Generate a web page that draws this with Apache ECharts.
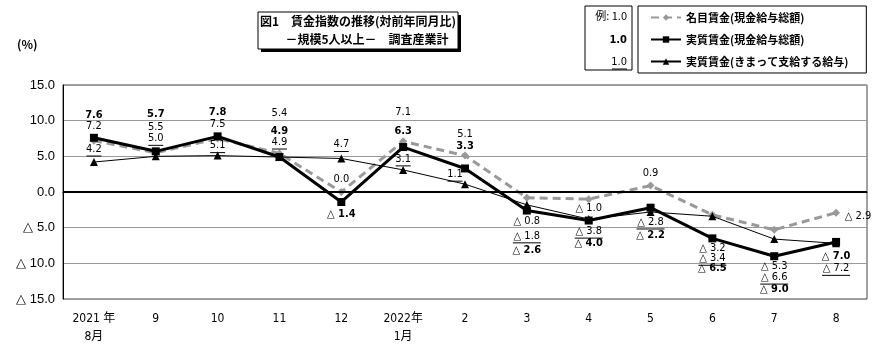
<!DOCTYPE html>
<html>
<head>
<meta charset="utf-8">
<script src="https://cdn.jsdelivr.net/npm/echarts@6/dist/echarts.min.js"></script>
<style>
  html, body { margin: 0; padding: 0; background: #fff; }
  #main { width: 890px; height: 354px; }
</style>
</head>
<body>
<div id="main"></div>
<script>
// 月
const months = ['2021 年\n8月', '9', '10', '11', '12', '2022年\n1月', '2', '3', '4', '5', '6', '7', '8'];
// 名目賃金(現金給与総額)
const nominal = [7.2, 5.5, 7.5, 5.4, 0.0, 7.1, 5.1, -0.8, -1.0, 0.9, -3.2, -5.3, -2.9];
// 実質賃金(現金給与総額)
const real = [7.6, 5.7, 7.8, 4.9, -1.4, 6.3, 3.3, -2.6, -4.0, -2.2, -6.5, -9.0, -7.0];
// 実質賃金(きまって支給する給与)
const scheduled = [4.2, 5.0, 5.1, 4.9, 4.7, 3.1, 1.1, -1.8, -3.8, -2.8, -3.4, -6.6, -7.2];
const yMin = -15, yMax = 15, yStep = 5;

// ラベル位置 (点からのずれ px)
const nominalOff = [[0,-14],[0,-26],[0,-14],[0,-40],[0,-13],[0,-29],[0,-21],[0,23],[0,9],[0,-12],[0,33],[0,36],[22,3]];
const realOff = [[0,-23],[0,-37],[0,-24],[0,-26],[0,12],[0,-16],[0,-22],[0,40],[0,23],[0,27],[0,30],[0,33],[0,14]];
const schedOff = [[0,-12],[0,-17],[0,-9],[0,-14],[0,-13],[0,-10],[-10,-9],[0,32],[0,13],[0,11],[0,43],[0,39],[0,26]];

const NUM_FONT = "'Liberation Sans Narrow', 'DejaVu Sans Condensed', 'Liberation Sans', sans-serif";
const JP_FONT = "'Noto Sans CJK JP', sans-serif";

const fmt = (v) => v < 0 ? '△ ' + Math.abs(v).toFixed(1) : v.toFixed(1);

const buildData = (arr, offs) => arr.map((v, i) => ({
  value: v,
  label: { position: 'inside', offset: offs[i] }
}));

const chart = echarts.init(document.getElementById('main'));

const option = {
  animation: false,
  backgroundColor: '#fff',
  grid: { left: 63, right: 23, top: 85, bottom: 55, show: true, borderColor: '#444', borderWidth: 1 },
  legend: {
    orient: 'vertical',
    left: 638,
    top: 6,
    padding: [6, 18, 6, 12],
    itemGap: 11,
    itemWidth: 30,
    itemHeight: 8,
    borderColor: '#000',
    borderWidth: 1,
    textStyle: { fontFamily: JP_FONT, fontSize: 11, color: '#000', fontWeight: 'bold' },
    data: ['名目賃金(現金給与総額)', '実質賃金(現金給与総額)', '実質賃金(きまって支給する給与)']
  },
  xAxis: {
    type: 'category',
    data: months,
    boundaryGap: true,
    axisLine: { lineStyle: { color: '#000', width: 1 } },
    axisTick: { show: false },
    axisLabel: { color: '#000', fontFamily: NUM_FONT + ", 'Noto Sans CJK JP'", fontSize: 12, margin: 11, lineHeight: 18, interval: 0 }
  },
  yAxis: {
    type: 'value',
    min: yMin,
    max: yMax,
    interval: yStep,
    axisLine: { show: true, lineStyle: { color: '#000', width: 1 } },
    axisTick: { show: false },
    splitLine: { lineStyle: { color: '#999', width: 1 } },
    axisLabel: {
      color: '#000', fontFamily: "'Liberation Sans', sans-serif", fontSize: 13, margin: 8,
      formatter: (v) => fmt(v)
    }
  },
  graphic: [
    { type: 'text', left: 17, top: 38, style: { text: '(%)', font: "bold 12px 'Noto Sans CJK JP'", fill: '#000' } },
    { type: 'rect', shape: { x: 261, y: 15, width: 200, height: 37 }, style: { fill: '#000' } },
    { type: 'rect', shape: { x: 258, y: 12, width: 200, height: 37 }, style: { fill: '#fff', stroke: '#000', lineWidth: 1 } },
    { type: 'text', x: 358, y: 21, style: { text: '図1　賃金指数の推移(対前年同月比)', font: "bold 12px 'Noto Sans CJK JP'", fill: '#000', align: 'center', verticalAlign: 'middle' } },
    { type: 'text', x: 367, y: 39, style: { text: '－規模5人以上－　調査産業計', font: "bold 12px 'Noto Sans CJK JP'", fill: '#000', align: 'center', verticalAlign: 'middle' } },
    // 例
    { type: 'rect', shape: { x: 585, y: 6, width: 47, height: 64 }, style: { fill: '#fff', stroke: '#000', lineWidth: 1 } },
    { type: 'text', x: 627, y: 16, style: { text: '例: 1.0', font: "11px 'Noto Sans CJK JP'", fill: '#000', align: 'right', verticalAlign: 'middle' } },
    { type: 'text', x: 627, y: 40, style: { text: '1.0', font: "bold 11px " + NUM_FONT, fill: '#000', align: 'right', verticalAlign: 'middle' } },
    { type: 'text', x: 627, y: 62, style: { text: '1.0', font: "11px " + NUM_FONT, fill: '#000', align: 'right', verticalAlign: 'middle' } },
    { type: 'line', shape: { x1: 612, y1: 69, x2: 627, y2: 69 }, style: { stroke: '#000', lineWidth: 1 } }
  ],
  series: [
    {
      name: '名目賃金(現金給与総額)',
      type: 'line',
      z: 2,
      data: buildData(nominal, nominalOff),
      symbol: 'diamond',
      symbolSize: 8,
      itemStyle: { color: '#999' },
      lineStyle: { color: '#999', width: 3, type: [8, 5] },
      label: {
        show: true,
        formatter: (p) => fmt(p.value),
        color: '#000',
        fontFamily: NUM_FONT,
        fontSize: 11
      },
      markLine: {
        silent: true,
        symbol: 'none',
        label: { show: false },
        lineStyle: { color: '#000', width: 2, type: 'solid' },
        data: [{ yAxis: 0 }]
      }
    },
    {
      name: '実質賃金(きまって支給する給与)',
      type: 'line',
      z: 3,
      data: buildData(scheduled, schedOff),
      symbol: 'triangle',
      symbolSize: 8,
      itemStyle: { color: '#000' },
      lineStyle: { color: '#000', width: 1 },
      label: {
        show: true,
        formatter: (p) => `{v|${fmt(p.value)}}\n{${p.value < 0 ? 'w' : 'u'}|}`,
        color: '#000',
        rich: {
          v: { fontFamily: NUM_FONT, fontSize: 11, color: '#000', lineHeight: 12 },
          u: { width: 15, height: 1, backgroundColor: '#000', lineHeight: 2 },
          w: { width: 28, height: 1, backgroundColor: '#000', lineHeight: 2 }
        }
      }
    },
    {
      name: '実質賃金(現金給与総額)',
      type: 'line',
      z: 4,
      data: buildData(real, realOff),
      symbol: 'rect',
      symbolSize: 8,
      itemStyle: { color: '#000' },
      lineStyle: { color: '#000', width: 3 },
      label: {
        show: true,
        formatter: (p) => fmt(p.value),
        color: '#000',
        fontFamily: NUM_FONT,
        fontWeight: 'bold',
        fontSize: 11
      }
    }
  ]
};

chart.setOption(option);
</script>
</body>
</html>
